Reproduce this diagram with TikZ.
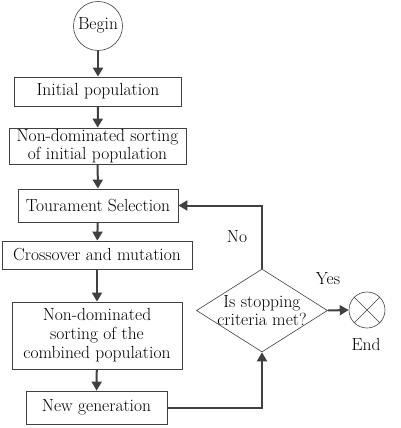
\documentclass[tikz,border=0pt]{standalone}
\usetikzlibrary{arrows.meta,shapes.geometric}
\definecolor{ln}{HTML}{404040}
\begin{document}
\begin{tikzpicture}[x=1pt,y=-1pt,
  every node/.style={font=\fontsize{17.5}{19}\selectfont},
  box/.style={draw=ln,line width=0.8pt,inner sep=0pt,align=center},
  conn/.style={draw=ln,line width=2pt,-{Triangle[length=9pt,width=10pt]}},
  lbl/.style={inner sep=0pt}]
\useasboundingbox (0,0) rectangle (400,428);
\node[draw=ln,line width=0.6pt,circle,minimum size=49pt,inner sep=0pt] (begin) at (98,26) {};
\node[lbl] (beginl) at (98,25) {Begin};
\node[box,minimum width=167pt,minimum height=29pt] (init) at (98,91.5) {Initial population};
\node[box,minimum width=177pt,minimum height=36pt] (nd1) at (97.5,146) {Non-dominated sorting\\[-1pt]of initial population};
\node[box,minimum width=160pt,minimum height=33pt] (tour) at (98,205.5) {Tourament Selection};
\node[box,minimum width=190pt,minimum height=28pt] (cross) at (97,255) {Crossover and mutation};
\node[box,minimum width=170pt,minimum height=67pt] (comb) at (97,335.5) {Non-dominated\\sorting of the\\combined population};
\node[box,minimum width=141pt,minimum height=33pt] (newg) at (96.5,407.5) {New generation};
\node[draw=ln,line width=0.6pt,diamond,minimum width=131pt,minimum height=83pt,inner sep=0pt] (dia) at (262,310.5) {};
\node[lbl,align=center] (dial) at (262,310.5) {Is stopping\\[-1pt]criteria met?};
\node[draw=ln,line width=0.6pt,circle,minimum size=36pt,inner sep=0pt] (end) at (367,310) {};
\draw[ln,line width=0.6pt] (end.north west) -- (end.south east) (end.north east) -- (end.south west);
\node[lbl] (endl) at (366,344) {End};
\node[lbl] (no) at (237,237) {No};
\node[lbl] (yes) at (328,279) {Yes};
\draw[conn] (begin) -- (init);
\draw[conn] (init) -- (nd1);
\draw[conn] (nd1) -- (tour);
\draw[conn] (tour) -- (cross);
\draw[conn] (cross) -- (comb);
\draw[conn] (comb) -- (newg);
\draw[conn] (newg.east) -| (dia.south);
\draw[conn] (dia.north) |- (tour.east);
\draw[conn] (dia.east) -- (end.west);
\end{tikzpicture}
\end{document}
